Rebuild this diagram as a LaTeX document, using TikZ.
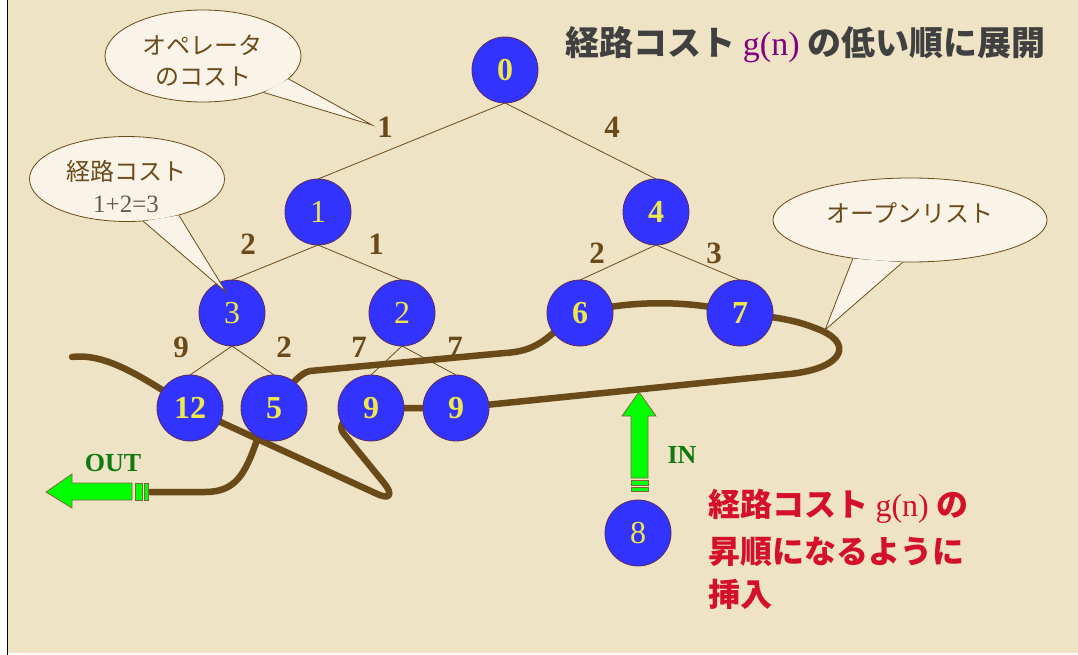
\documentclass[tikz,border=0pt]{standalone}
\usepackage{fontspec}
\setmainfont{Liberation Serif}
\newfontfamily\jp{Noto Sans CJK JP}
\usetikzlibrary{shapes.geometric}
\definecolor{bg}{HTML}{EEE3C4}
\definecolor{brn}{HTML}{6B4A1A}
\definecolor{nodeblue}{HTML}{3333FF}
\definecolor{nodeedge}{HTML}{5A2A5A}
\definecolor{ylw}{HTML}{EEE84A}
\definecolor{cream}{HTML}{FAF3E8}
\definecolor{grn}{HTML}{00FF00}
\definecolor{dgrn}{HTML}{107A10}
\definecolor{ttl}{HTML}{404040}
\definecolor{purp}{HTML}{800080}
\definecolor{rd}{HTML}{D5102A}
\definecolor{gbrn}{HTML}{6A5A48}
\tikzset{
  tn/.style={circle, fill=nodeblue, draw=nodeedge, line width=0.8pt, minimum size=66pt, inner sep=0pt, text=ylw, font=\fontsize{32}{34}\selectfont\bfseries},
  tnr/.style={tn, font=\fontsize{32}{34}\selectfont},
  elab/.style={text=brn, font=\fontsize{31}{33}\selectfont\bfseries, inner sep=0pt},
  tline/.style={draw=brn, line width=0.8pt},
  callout/.style={ellipse, fill=cream, draw=brn, line width=0.8pt, inner sep=0pt},
  ctext/.style={text=brn, font=\jp\fontsize{24}{28}\selectfont, inner sep=0pt},
  olist/.style={draw=brn, line width=6.5pt, line cap=round, line join=round},
  garrow/.style={fill=grn, draw=brn!85, line width=0.8pt},
  redtext/.style={text=rd, font=\jp\bfseries\fontsize{32}{36}\selectfont, anchor=base west, inner sep=0pt},
  gtext/.style={text=dgrn, font=\bfseries\fontsize{26}{28}\selectfont, inner sep=0pt}
}
\begin{document}
\begin{tikzpicture}[x=1pt,y=-1pt]
\useasboundingbox (0,0) rectangle (1078,655);
\fill[white] (0,0) rectangle (1078,655);
\fill[bg] (8,0) rectangle (1078,653);
\draw[black,line width=1.4pt] (7.5,0) -- (7.5,655);

\path
  (505,70)  coordinate (p0)
  (318,212) coordinate (p1)
  (656,212) coordinate (p4)
  (232,313) coordinate (p3)
  (402,313) coordinate (p2)
  (580,313) coordinate (p6)
  (740,313) coordinate (p7)
  (190,408) coordinate (p12)
  (274,408) coordinate (p5)
  (371,408) coordinate (p9a)
  (456,408) coordinate (p9b)
  (638,533) coordinate (p8);

% tree edges
\draw[tline] ([yshift=-33pt]p0) -- ([yshift=33pt]p1);
\draw[tline] ([yshift=-33pt]p0) -- ([yshift=33pt]p4);
\draw[tline] ([yshift=-33pt]p1) -- ([yshift=33pt]p3);
\draw[tline] ([yshift=-33pt]p1) -- ([yshift=33pt]p2);
\draw[tline] ([yshift=-33pt]p4) -- ([yshift=33pt]p6);
\draw[tline] ([yshift=-33pt]p4) -- ([yshift=33pt]p7);
\draw[tline] ([yshift=-33pt]p3) -- ([yshift=33pt]p12);
\draw[tline] ([yshift=-33pt]p3) -- ([yshift=33pt]p5);
\draw[tline] ([yshift=-33pt]p2) -- ([yshift=33pt]p9a);
\draw[tline] ([yshift=-33pt]p2) -- ([yshift=33pt]p9b);

% edge labels
\node[elab] (e01) at (385,127) {1};
\node[elab] (e04) at (612,127) {4};
\node[elab] (e13) at (248,244) {2};
\node[elab] (e12) at (376,244) {1};
\node[elab] (e46) at (597,253) {2};
\node[elab] (e47) at (714,253) {3};
\node[elab] (e312) at (181,347) {9};
\node[elab] (e35) at (284,347) {2};
\node[elab] (e29a) at (359,347) {7};
\node[elab] (e29b) at (455,347) {7};

% open list curve
\coordinate (lstart) at (72,357);
\coordinate (outend) at (150,492);
\draw[olist] (lstart) .. controls (105,353) and (140,375) .. (p12)
  -- (375,493) .. controls (391,501) and (393,494) .. (384,483)
  -- (344,434) .. controls (336,424) and (345,418) .. (p9a)
  -- (p9b) -- (790,374)
  .. controls (845,368) and (855,342) .. (815,328)
  .. controls (800,322) and (785,318) .. (p7)
  .. controls (690,300) and (630,300) .. (p6)
  -- (552,334) .. controls (536,348) and (522,352) .. (505,353)
  -- (310,371) .. controls (300,373) and (290,385) .. (p5)
  -- (257,440) .. controls (245,475) and (235,492) .. (205,492)
  -- (outend);

% tree nodes
\node[tn]  (n0)  at (p0)  {0};
\node[tnr] (n1)  at (p1)  {1};
\node[tn]  (n4)  at (p4)  {4};
\node[tnr] (n3)  at (p3)  {3};
\node[tnr] (n2)  at (p2)  {2};
\node[tn]  (n6)  at (p6)  {6};
\node[tn]  (n7)  at (p7)  {7};
\node[tn]  (n12) at (p12) {12};
\node[tn]  (n5)  at (p5)  {5};
\node[tn]  (n9a) at (p9a) {9};
\node[tn]  (n9b) at (p9b) {9};
\node[tnr] (n8)  at (p8)  {8};

% callout 1
\node[callout, minimum width=196pt, minimum height=92pt] (c1) at (203,56) {};
\coordinate (t1) at (372,125);
\fill[cream] (t1) -- (c1.-15) -- (c1.-31) -- cycle;
\draw[brn, line width=0.8pt] (c1.-15) -- (t1) -- (c1.-31);
\node[ctext] (c1a) at (202,45) {オペレータ};
\node[ctext] (c1b) at (203,77) {のコスト};

% callout 2
\node[callout, minimum width=195pt, minimum height=85pt] (c2) at (127,179) {};
\coordinate (t2) at (226,292);
\fill[cream] (t2) -- (c2.-35) -- (c2.-69) -- cycle;
\draw[brn, line width=0.8pt] (c2.-35) -- (t2) -- (c2.-69);
\node[ctext] (c2a) at (126,171) {経路コスト};
\node[text=gbrn, font=\fontsize{25}{27}\selectfont, inner sep=0pt] (c2b) at (126,204) {1+2=3};

% callout 3
\node[callout, minimum width=274pt, minimum height=84pt] (c3) at (910,220) {};
\coordinate (t3) at (825,330);
\fill[cream] (t3) -- (c3.-146) -- (c3.-100) -- cycle;
\draw[brn, line width=0.8pt] (c3.-146) -- (t3) -- (c3.-100);
\node[ctext] (c3a) at (910,213) {オープンリスト};

% OUT arrow
\draw[garrow] (46,492) -- (72,474) -- (72,483) -- (132,483) -- (132,500) -- (72,500) -- (72,508) -- cycle;
\draw[garrow] (135,483) rectangle (142,500);
\draw[garrow] (144,483) rectangle (148,500);
\node[gtext] (out) at (113,463) {OUT};

% IN arrow
\draw[garrow] (639,392) -- (656,416) -- (648,416) -- (648,478) -- (631,478) -- (631,416) -- (622,416) -- cycle;
\draw[garrow] (631,480) rectangle (648,485);
\draw[garrow] (631,487) rectangle (648,491);
\node[gtext] (in) at (682,455) {IN};

% title
\node[anchor=base west, inner sep=0pt, text=ttl, font=\jp\bfseries\fontsize{34}{38}\selectfont] (title) at (565,56)
  {経路コスト {\rmfamily\mdseries\color{purp}g(n)} の低い順に展開};

% red text
\node[redtext] (r1) at (708,516) {経路コスト {\rmfamily\mdseries g(n)} の};
\node[redtext] (r2) at (708,563) {昇順になるように};
\node[redtext] (r3) at (708,606) {挿入};
\end{tikzpicture}
\end{document}
